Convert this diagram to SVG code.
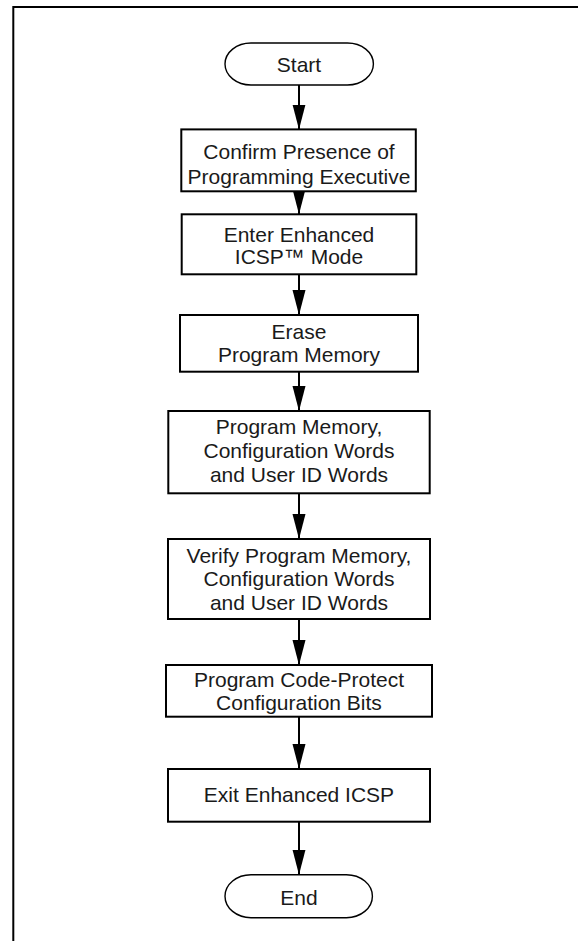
<svg xmlns="http://www.w3.org/2000/svg" width="578" height="941" viewBox="0 0 578 941">
<style>
  .box { fill: #fff; stroke: #000; stroke-width: 2; }
  .term { fill: #fff; stroke: #000; stroke-width: 1.4; }
  .t { font-family: "Liberation Sans", Arial, sans-serif; font-size: 21px; fill: #1a1a1a; text-anchor: middle; }
  .conn { stroke: #000; stroke-width: 2; fill: none; marker-end: url(#ah); }
  .frame { stroke: #000; stroke-width: 2; fill: none; }
</style>
<defs>
  <marker id="ah" markerUnits="userSpaceOnUse" markerWidth="25" markerHeight="14" refX="25" refY="7" orient="auto" viewBox="0 0 25 14">
    <path d="M0,0.5 L25,7 L0,13.5 Z" fill="#000"/>
  </marker>
</defs>
<path class="frame" d="M13.3,941 V7 H578"/>

<g id="connectors">
  <line class="conn" x1="299" y1="85" x2="299" y2="129.5"/>
  <line class="conn" x1="299" y1="191.3" x2="299" y2="214.3"/>
  <line class="conn" x1="299" y1="274.3" x2="299" y2="315"/>
  <line class="conn" x1="299" y1="371.7" x2="299" y2="411"/>
  <line class="conn" x1="299" y1="493.3" x2="299" y2="539"/>
  <line class="conn" x1="299" y1="619" x2="299" y2="665"/>
  <line class="conn" x1="299" y1="716.7" x2="299" y2="769"/>
  <line class="conn" x1="299" y1="821.7" x2="299" y2="874.7"/>
</g>

<g id="start">
  <rect class="term" x="225" y="43" width="148.4" height="42" rx="26" ry="21"/>
  <text class="t" x="299" y="71.5">Start</text>
</g>

<g id="confirm">
  <rect class="box" x="181.3" y="129.4" width="234.5" height="61.9"/>
  <text class="t" x="299" y="158.5">Confirm Presence of</text>
  <text class="t" x="299" y="183.5">Programming Executive</text>
</g>

<g id="enter">
  <rect class="box" x="181.7" y="214.3" width="234.6" height="60"/>
  <text class="t" x="299" y="241.5">Enter Enhanced</text>
  <text class="t" x="299" y="264">ICSP™ Mode</text>
</g>

<g id="erase">
  <rect class="box" x="180" y="315" width="238" height="56.7"/>
  <text class="t" x="299" y="338.5">Erase</text>
  <text class="t" x="299" y="362.3">Program Memory</text>
</g>

<g id="program">
  <rect class="box" x="168.3" y="411" width="261.4" height="82.3"/>
  <text class="t" x="299" y="434.3">Program Memory,</text>
  <text class="t" x="299" y="458.3">Configuration Words</text>
  <text class="t" x="299" y="481.7">and User ID Words</text>
</g>

<g id="verify">
  <rect class="box" x="168" y="539" width="262" height="80"/>
  <text class="t" x="299" y="563.3">Verify Program Memory,</text>
  <text class="t" x="299" y="586.3">Configuration Words</text>
  <text class="t" x="299" y="609.5">and User ID Words</text>
</g>

<g id="codeprotect">
  <rect class="box" x="166" y="665" width="266" height="51.7"/>
  <text class="t" x="299" y="686.7">Program Code-Protect</text>
  <text class="t" x="299" y="710">Configuration Bits</text>
</g>

<g id="exit">
  <rect class="box" x="168" y="769" width="262" height="52.7"/>
  <text class="t" x="299" y="801.7">Exit Enhanced ICSP</text>
</g>

<g id="end">
  <rect class="term" x="225" y="874.7" width="147.4" height="43" rx="26" ry="21.5"/>
  <text class="t" x="299" y="904.5">End</text>
</g>
</svg>
